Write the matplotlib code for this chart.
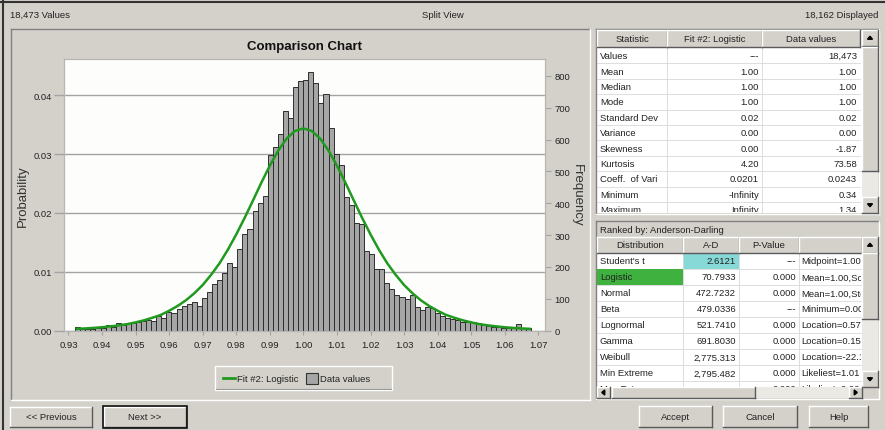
import numpy as np
import matplotlib
matplotlib.use("Agg")
import matplotlib.pyplot as plt
from matplotlib.patches import Rectangle, Polygon
from matplotlib.transforms import Bbox

plt.rcParams["font.family"] = ["Liberation Sans", "DejaVu Sans"]

# ---- data ----
n_values = 18473
bin_start = 0.9320
bin_width = 0.00151
counts = [10, 5, 5, 5, 7, 9, 17, 11, 24, 16, 24, 24, 27, 31, 33, 31, 47, 39, 58, 54,
          69, 77, 82, 89, 77, 102, 121, 145, 158, 182, 211, 200, 255, 302, 318, 376,
          400, 423, 552, 578, 617, 691, 667, 764, 785, 788, 811, 778, 715, 743, 636,
          556, 520, 421, 395, 339, 334, 250, 239, 194, 192, 150, 129, 110, 106, 98,
          113, 75, 64, 75, 71, 56, 45, 40, 37, 33, 26, 26, 28, 22, 16, 14, 12, 12,
          8, 8, 12, 21, 8, 8]

fit_x = [0.9325, 0.9350, 0.9375, 0.9400, 0.9425, 0.9450, 0.9475, 0.9500, 0.9525,
         0.9550, 0.9575, 0.9600, 0.9625, 0.9650, 0.9675, 0.9700, 0.9725, 0.9750,
         0.9775, 0.9800, 0.9825, 0.9850, 0.9875, 0.9900, 0.9925, 0.9950, 0.9975,
         1.0000, 1.0025, 1.0050, 1.0075, 1.0100, 1.0125, 1.0150, 1.0175, 1.0200,
         1.0225, 1.0250, 1.0275, 1.0300, 1.0325, 1.0350, 1.0375, 1.0400, 1.0425,
         1.0450, 1.0475, 1.0500, 1.0525, 1.0550, 1.0575, 1.0600, 1.0625, 1.0650,
         1.0675]
fit_counts = [5.2, 6.5, 8.2, 10.2, 13, 16, 20, 25.5, 32, 40, 49, 62, 77, 95, 117, 143,
              175, 211, 254, 302, 354, 409, 465, 518, 565, 603, 627, 635, 627, 603,
              565, 518, 465, 409, 354, 302, 254, 211, 175, 143, 117, 95, 77, 62, 49,
              40, 32, 25.5, 20, 16, 13, 10.2, 8.2, 6.5, 5.2]

x_ticks = [0.93, 0.94, 0.95, 0.96, 0.97, 0.98, 0.99, 1.00, 1.01, 1.02, 1.03, 1.04,
           1.05, 1.06, 1.07]
prob_ticks = [0.00, 0.01, 0.02, 0.03, 0.04]
freq_ticks = [0, 100, 200, 300, 400, 500, 600, 700, 800]

stat_names = ["Values", "Mean", "Median", "Mode", "Standard Dev", "Variance",
              "Skewness", "Kurtosis", "Coeff.  of Vari", "Minimum", "Maximum"]
stat_fit = ["---", "1.00", "1.00", "1.00", "0.02", "0.00", "0.00", "4.20", "0.0201",
            "-Infinity", "Infinity"]
stat_data = ["18,473", "1.00", "1.00", "1.00", "0.02", "0.00", "-1.87", "73.58",
             "0.0243", "0.34", "1.34"]

dist_names = ["Student's t", "Logistic", "Normal", "Beta", "Lognormal", "Gamma",
              "Weibull", "Min Extreme", "Max Extreme"]
dist_ad = ["2.6121", "70.7933", "472.7232", "479.0336", "521.7410", "691.8030",
           "2,775.313", "2,795.482", "4,540.634"]
dist_p = ["---", "0.000", "0.000", "---", "0.000", "0.000", "0.000", "0.000", "0.000"]
dist_par = ["Midpoint=1.00", "Mean=1.00,Scale", "Mean=1.00,StdDev", "Minimum=0.00",
            "Location=0.57", "Location=0.15", "Location=-22.1", "Likeliest=1.01",
            "Likeliest=0.99"]

BG = "#d4d1ca"
GRID = "#a3a3a3"
TXT = "#222222"
UI = 6.8

W, H = 885, 431
fig = plt.figure(figsize=(W / 100, H / 100), dpi=100)
fig.patch.set_facecolor(BG)
bg = fig.add_axes([0, 0, 1, 1])
bg.set_xlim(0, W)
bg.set_ylim(H, 0)
bg.axis("off")


def box(x0, y0, x1, y1, fc, ec="none", lw=0.8, z=1):
    bg.add_patch(Rectangle((x0, y0), x1 - x0, y1 - y0, facecolor=fc, edgecolor=ec,
                           linewidth=lw, zorder=z))


def bevel(x0, y0, x1, y1, raised=True, z=2):
    hi, lo = ("#ffffff", "#5a5a5a") if raised else ("#808080", "#ffffff")
    bg.plot([x0, x1], [y0, y0], color=hi, lw=1, zorder=z)
    bg.plot([x0, x0], [y0, y1], color=hi, lw=1, zorder=z)
    bg.plot([x0, x1], [y1, y1], color=lo, lw=1, zorder=z)
    bg.plot([x1, x1], [y0, y1], color=lo, lw=1, zorder=z)


def button(x0, y0, x1, y1, label, default=False):
    box(x0, y0, x1, y1, BG)
    bevel(x0, y0, x1, y1)
    if default:
        box(x0 - 1, y0 - 1, x1 + 1, y1 + 1, "none", "#111111", 1.2, z=3)
    bg.text((x0 + x1) / 2, (y0 + y1) / 2, label, fontsize=UI, color=TXT,
            ha="center", va="center")


def clipped(x, y, s, clip, **kw):
    t = bg.text(x, y, s, fontsize=UI, color=TXT, va="center", zorder=5, **kw)
    # clip box in display pixels (figure is drawn 1:1 at dpi 100)
    t.set_clip_box(Bbox.from_extents(clip[0], H - clip[3], clip[2], H - clip[1]))
    t.set_clip_on(True)
    return t


def arrow_btn(x0, y0, x1, y1, direction):
    box(x0, y0, x1, y1, BG, z=4)
    bevel(x0, y0, x1, y1, z=4)
    cx, cy = (x0 + x1) / 2, (y0 + y1) / 2
    s = 2.5
    pts = {"up": [(cx - s, cy + s / 2), (cx + s, cy + s / 2), (cx, cy - s / 2 - 0.5)],
           "down": [(cx - s, cy - s / 2), (cx + s, cy - s / 2), (cx, cy + s / 2 + 0.5)],
           "left": [(cx + s / 2, cy - s), (cx + s / 2, cy + s), (cx - s / 2 - 0.5, cy)],
           "right": [(cx - s / 2, cy - s), (cx - s / 2, cy + s), (cx + s / 2 + 0.5, cy)]}
    bg.add_patch(Polygon(pts[direction], closed=True, color="#000000", zorder=5))


# window frame and header line
bg.plot([0, W], [2.5, 2.5], color="#333333", lw=1.5)
bg.plot([3, 3], [0, H], color="#333333", lw=1.5)
bg.text(10, 15.5, "18,473 Values", fontsize=UI, color=TXT, va="center")
bg.text(443, 15.5, "Split View", fontsize=UI, color=TXT, va="center", ha="center")
bg.text(878, 15.5, "18,162 Displayed", fontsize=UI, color=TXT, va="center", ha="right")

# chart panel frame
bevel(11, 30, 590, 401, raised=False)

# legend
box(215, 367, 392, 391, BG, "#ffffff", 1.0)
bg.plot([216, 391], [390.5, 390.5], color="#9a9a9a", lw=0.8)
bg.plot([223, 235], [379, 379], color="#1f9a1f", lw=2)
bg.text(237, 379.5, "Fit #2: Logistic", fontsize=UI, color=TXT, va="center")
box(306, 374, 318, 385, "#a6a6a6", "#333333", 0.8)
bg.text(320, 379.5, "Data values", fontsize=UI, color=TXT, va="center")

# bottom buttons
button(10, 408, 92, 428, "<< Previous")
button(104, 408, 186, 428, "Next >>", default=True)
button(639, 407, 712, 428, "Accept")
button(723, 407, 797, 428, "Cancel")
button(809, 407, 868, 428, "Help")

# ---- statistics table ----
tx0, tx1, sbx = 597, 862, 878
ty0, ty1 = 31, 214
box(tx0, ty0, sbx, ty1, "#ffffff")
bevel(tx0 - 1, ty0 - 1, sbx + 1, ty1 + 1, raised=False)
cols = [597, 667, 762, 860]
hdr = ["Statistic", "Fit #2: Logistic", "Data values"]
for i in range(3):
    box(cols[i], ty0, cols[i + 1], 48, BG, z=3)
    bevel(cols[i], ty0, cols[i + 1], 48, z=3)
    bg.text((cols[i] + cols[i + 1]) / 2, 40, hdr[i], fontsize=UI, color=TXT,
            ha="center", va="center", zorder=4)
row_h = 15.4
for k, name in enumerate(stat_names):
    yc = 49 + row_h * (k + 0.5)
    if k < len(stat_names) - 1:
        bg.plot([tx0, 860], [49 + row_h * (k + 1)] * 2, color="#d8d8d8", lw=0.6)
    clip = (tx0, 48, 860, ty1 - 1)
    clipped(600, yc, name, clip)
    clipped(cols[2] - 3, yc, stat_fit[k], clip, ha="right")
    clipped(cols[3] - 3, yc, stat_data[k], clip, ha="right")
for c in cols[1:3]:
    bg.plot([c, c], [48, ty1], color="#d8d8d8", lw=0.6)
# scrollbar
box(862, ty0, sbx, ty1, "#ebe9e4", z=3)
arrow_btn(862, ty0, sbx, ty0 + 16, "up")
arrow_btn(862, ty1 - 16, sbx, ty1, "down")
box(862, 48, sbx, 172, BG, z=4)
bevel(862, 48, sbx, 172, z=4)

# ---- ranking table ----
ry0, ry1 = 222, 400
hs = 388
box(tx0 - 1, ry0, sbx + 1, ry1, BG)
bevel(tx0 - 1, ry0, sbx + 1, ry1, raised=False)
bg.text(600, 230.5, "Ranked by: Anderson-Darling", fontsize=UI, color=TXT, va="center")
box(tx0, 238, sbx, hs, "#ffffff")
rcols = [597, 683, 739, 799, 862]
rhdr = ["Distribution", "A-D", "P-Value", ""]
for i in range(4):
    box(rcols[i], 238, rcols[i + 1], 254, BG, z=3)
    bevel(rcols[i], 238, rcols[i + 1], 254, z=3)
    bg.text((rcols[i] + rcols[i + 1]) / 2, 246, rhdr[i], fontsize=UI, color=TXT,
            ha="center", va="center", zorder=4)
rrow = 16
for k, name in enumerate(dist_names):
    y0 = 254 + rrow * k
    yc = y0 + rrow / 2
    if k == 0:
        box(rcols[1], y0, rcols[2], y0 + rrow, "#86d9d6", z=2)
    if k == 1:
        box(rcols[0], y0, rcols[1], y0 + rrow, "#3fb13f", z=2)
    if y0 + rrow < hs:
        bg.plot([tx0, 862], [y0 + rrow] * 2, color="#d8d8d8", lw=0.6)
    clip = (tx0, 254, 861, hs)
    clipped(600, yc, name, clip)
    clipped(rcols[2] - 3, yc, dist_ad[k], clip, ha="right")
    clipped(rcols[3] - 3, yc, dist_p[k], clip, ha="right")
    clipped(rcols[3] + 2, yc, dist_par[k], clip)
for c in rcols[1:4]:
    bg.plot([c, c], [254, hs], color="#d8d8d8", lw=0.6)
box(862, 238, sbx, hs, "#ebe9e4", z=3)
arrow_btn(862, 238, sbx, 254, "up")
arrow_btn(862, hs - 16, sbx, hs, "down")
box(862, 254, sbx, 320, BG, z=4)
bevel(862, 254, sbx, 320, z=4)
box(tx0, hs, 862, 399, "#ebe9e4", z=3)
arrow_btn(tx0, hs, tx0 + 13, 399, "left")
arrow_btn(849, hs, 862, 399, "right")
box(612, hs, 755, 399, BG, z=4)
bevel(612, hs, 755, 399, z=4)
box(862, hs, sbx, 399, BG, z=3)

# ---- chart ----
left, right, top, bottom = 64.3, 545, 60, 331.5
ax = fig.add_axes([left / W, 1 - bottom / H, (right - left) / W, (bottom - top) / H])
ax.set_zorder(5)
ax.set_facecolor("#fdfdfb")
ax2 = ax.twinx()
freq_top = 853
ax2.set_ylim(0, freq_top)
ax.set_ylim(0, freq_top / n_values)
ax.set_xlim(0.92875, 1.0720)

edges = bin_start + bin_width * np.arange(len(counts))
ax2.bar(edges, counts, width=bin_width, align="edge", color="#a6a6a6",
        edgecolor="#2e2e2e", linewidth=0.7, zorder=2)
ax2.plot(fit_x, fit_counts, color="#1f9a1f", lw=1.8, zorder=3)

ax.set_yticks(prob_ticks)
ax.set_yticklabels([f"{v:.2f}" for v in prob_ticks])
ax.grid(axis="y", color=GRID, lw=1.0)
ax.set_axisbelow(True)
ax.set_xticks(x_ticks)
ax.set_xticklabels([f"{v:.2f}" for v in x_ticks])
ax2.set_yticks(freq_ticks)
ax.tick_params(axis="y", length=7, color=GRID, width=1, pad=2, labelsize=UI,
               labelcolor=TXT)
ax.tick_params(axis="x", length=3, color=GRID, width=0.8, pad=4, labelsize=UI,
               labelcolor=TXT)
ax2.tick_params(axis="y", length=4, color=GRID, width=0.8, pad=3, labelsize=UI,
                labelcolor=TXT)
for a in (ax, ax2):
    for s in a.spines.values():
        s.set_color("#b5b5b5")
        s.set_linewidth(0.8)

ax.set_title("Comparison Chart", fontsize=9.5, fontweight="bold", color="#111111",
             pad=7)
ax.set_ylabel("Probability", fontsize=9.5, color="#333333", labelpad=3)
ax2.set_ylabel("Frequency", fontsize=9.5, color="#333333", rotation=270,
               labelpad=9)

fig.savefig("out.png", dpi=100, facecolor=BG)
